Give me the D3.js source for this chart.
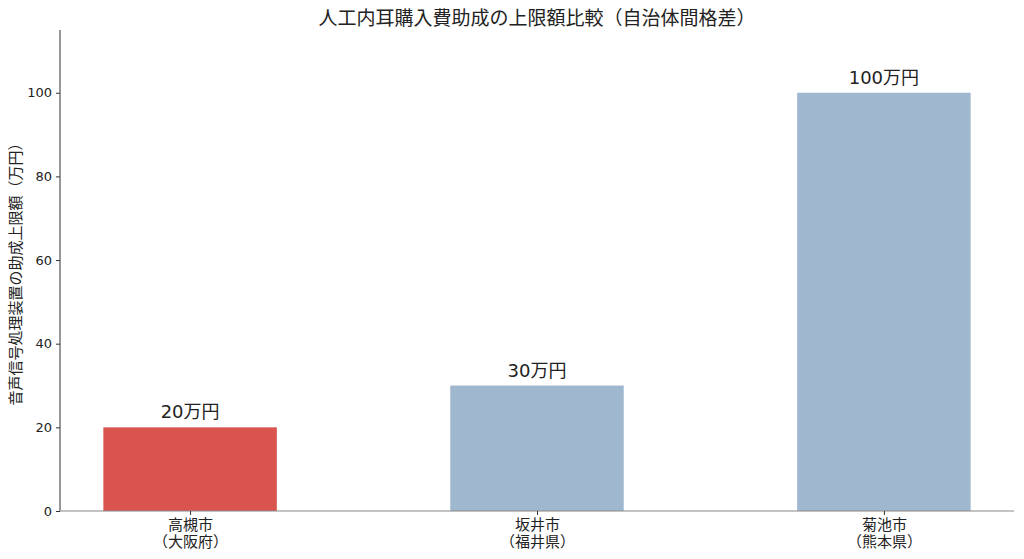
<!DOCTYPE html>
<html>
<head>
<meta charset="utf-8">
<script src="https://cdn.jsdelivr.net/npm/d3@7"></script>
<style>
  body { margin: 0; background: #fff; }
  text { font-family: "DejaVu Sans", "Noto Sans CJK JP", sans-serif; fill: #222; }
</style>
</head>
<body>
<svg id="chart" width="1024" height="559"></svg>
<script>
const cities = ["高槻市", "坂井市", "菊池市"];
const prefectures = ["（大阪府）", "（福井県）", "（熊本県）"];
const limits = [20, 30, 100];
const barColors = ["#d9534f", "#9fb7cf", "#9fb7cf"];
const yTicks = [0, 20, 40, 60, 80, 100];

const width = 1024, height = 559;
const margin = {top: 30, right: 10, bottom: 48, left: 60};

const svg = d3.select("#chart");

// x positions like a numeric axis: bars at 0,1,2, width 0.5
const x = d3.scaleLinear()
    .domain([-0.375, cities.length - 1 + 0.375])
    .range([margin.left, width - margin.right]);

const y = d3.scaleLinear()
    .domain([0, 115])
    .range([height - margin.bottom, margin.top]);

const barW = x(0.5) - x(0);

svg.append("g")
    .selectAll("rect")
    .data(limits)
    .join("rect")
    .attr("x", (d, i) => x(i) - barW / 2)
    .attr("y", d => y(d))
    .attr("width", barW)
    .attr("height", d => y(0) - y(d))
    .attr("fill", (d, i) => barColors[i]);

// value labels
svg.append("g")
    .selectAll("text")
    .data(limits)
    .join("text")
    .attr("x", (d, i) => x(i))
    .attr("y", d => y(d) - 9)
    .attr("text-anchor", "middle")
    .style("font-size", "18px")
    .text(d => d + "万円");

// y axis
const yAxis = svg.append("g")
    .attr("transform", "translate(" + margin.left + ",0)")
    .call(d3.axisLeft(y).tickValues(yTicks).tickSize(4).tickPadding(4));
yAxis.select(".domain").attr("stroke", "#333").attr("d", "M0," + y(0) + "V" + margin.top);
yAxis.selectAll(".tick line").attr("stroke", "#333");
yAxis.selectAll(".tick text").style("font-size", "13px").attr("fill", "#222");

// x axis
const xAxis = svg.append("g")
    .attr("transform", "translate(0," + y(0) + ")")
    .call(d3.axisBottom(x).tickValues(d3.range(cities.length)).tickSize(4).tickFormat(""));
xAxis.select(".domain").attr("stroke", "#888").attr("stroke-width", 1.2)
    .attr("d", "M" + margin.left + ",0H" + (width - margin.right));
xAxis.selectAll(".tick line").attr("stroke", "#333");

const catLabels = xAxis.selectAll(".tick")
    .append("text")
    .attr("text-anchor", "middle")
    .style("font-size", "15px")
    .attr("fill", "#222");
catLabels.append("tspan").attr("x", 0).attr("y", 19).text((d, i) => cities[i]);
catLabels.append("tspan").attr("x", 0).attr("y", 36).text((d, i) => prefectures[i]);

// title
svg.append("text")
    .attr("x", (margin.left + width - margin.right) / 2)
    .attr("y", 25)
    .attr("text-anchor", "middle")
    .style("font-size", "19px")
    .text("人工内耳購入費助成の上限額比較（自治体間格差）");

// y label
svg.append("text")
    .attr("transform", "translate(21," + (margin.top + y(0)) / 2 + ") rotate(-90)")
    .attr("text-anchor", "middle")
    .style("font-size", "15px")
    .text("音声信号処理装置の助成上限額（万円）");
</script>
</body>
</html>
